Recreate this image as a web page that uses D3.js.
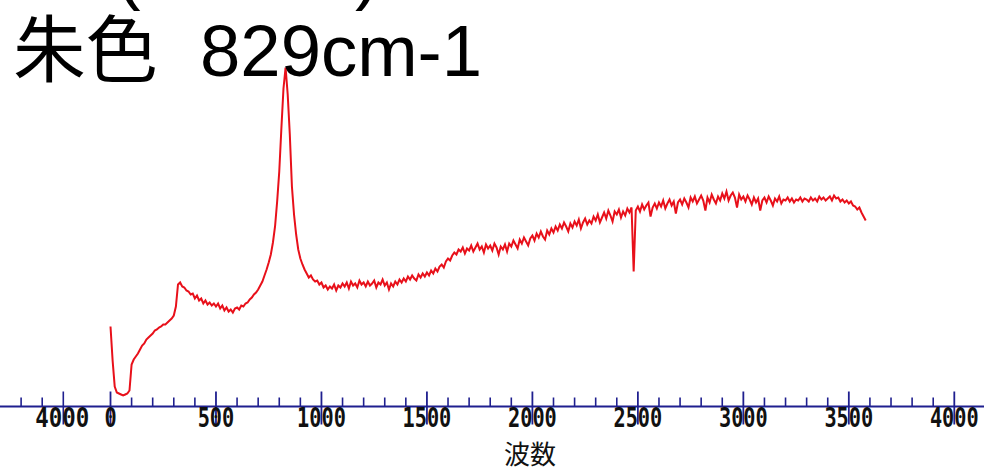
<!DOCTYPE html>
<html>
<head>
<meta charset="utf-8">
<script src="https://cdn.jsdelivr.net/npm/d3@7/dist/d3.min.js"></script>
<style>
  html, body { margin: 0; padding: 0; background: #ffffff; }
  svg { display: block; }
</style>
</head>
<body>
<div id="chart"></div>
<script>
// Raman spectrum of vermilion (朱色), main band at 829 cm-1
const titleName = "朱色";
const titleBand = "829cm-1";
const axisTitle = "波数";

// Tick labels along the wavenumber axis
const majorTicks = [0, 500, 1000, 1500, 2000, 2500, 3000, 3500, 4000];
const minorStep = 100;
// end of the neighbouring panel's axis, visible at the left edge
const prevPanelTicks = [3800, 3900, 4000];
const prevPanelLabels = [4000];

// Sampling grid of the spectrum (cm-1), every 10 cm-1
const shiftStart = 0, shiftStep = 10;

// Measured intensity (arbitrary units), one value per grid point
const intensity = [
  // 0 - 990
  80, 46, 20, 14, 13, 12, 11, 12, 13, 16,
  42, 47, 50, 53, 57, 61, 63, 67, 69, 71,
  73, 76, 77, 79, 80, 82, 82, 84, 86, 88,
  91, 100, 122, 124, 120, 119, 116, 115, 112, 113,
  108, 111, 106, 108, 103, 106, 102, 104, 101, 103,
  100, 103, 98, 101, 96, 99, 95, 97, 94, 98,
  99, 97, 101, 100, 103, 104, 107, 109, 112, 114,
  117, 121, 125, 131, 137, 144, 152, 164, 180, 205,
  235, 278, 318, 339, 312, 272, 220, 192, 172, 157,
  148, 142, 137, 133, 129, 131, 127, 125, 126, 122,
  // 1000 - 1990
  124, 119, 121, 117, 120, 118, 122, 116, 121, 119,
  123, 120, 124, 118, 125, 121, 123, 119, 126, 122,
  124, 120, 125, 121, 123, 126, 119, 124, 122, 127,
  121, 124, 117, 123, 120, 125, 122, 127, 124, 128,
  125, 130, 127, 131, 128, 126, 132, 129, 133, 130,
  134, 131, 136, 133, 138, 135, 140, 142, 139, 145,
  148, 146, 151, 154, 152, 157, 155, 159, 153, 158,
  156, 161, 155, 159, 163, 157, 160, 154, 162, 158,
  161, 156, 163, 159, 152, 160, 157, 162, 155, 163,
  160, 166, 162, 158, 167, 163, 169, 165, 161, 168,
  // 2000 - 2990
  171, 166, 173, 169, 175, 170, 167, 176, 172, 178,
  174, 180, 176, 182, 178, 184, 180, 175, 183, 179,
  185, 181, 187, 178, 184, 188, 182, 186, 183, 190,
  186, 192, 184, 189, 194, 188, 196, 191, 185, 195,
  192, 197, 189, 195, 191, 198, 194, 199, 135, 196,
  200, 195, 202, 197, 201, 204, 190, 199, 203, 198,
  204, 200, 206, 198, 203, 207, 201, 205, 193, 204,
  207, 202, 208, 204, 199, 209, 205, 210, 203, 207,
  211, 206, 196, 209, 204, 212, 207, 203, 210, 206,
  213, 208, 215, 206, 211, 214, 209, 199, 212, 207,
  // 3000 - 3580
  210, 205, 211, 207, 202, 209, 204, 208, 196, 206,
  209, 204, 210, 206, 201, 208, 205, 210, 203, 207,
  206, 209, 205, 208, 204, 207, 206, 209, 205, 208,
  207, 205, 209, 206, 208, 205, 210, 207, 209, 206,
  208, 210, 206, 211, 208, 209, 205, 207, 204, 206,
  203, 205, 201, 200, 197, 199, 194, 190, 186
];

const W = 984, H = 469;
const axisY = 406.5;

const svg = d3.select("#chart").append("svg")
  .attr("width", W).attr("height", H)
  .attr("viewBox", `0 0 ${W} ${H}`);

svg.append("rect").attr("width", W).attr("height", H).attr("fill", "#ffffff");

// Scales
const x = d3.scaleLinear().domain([0, 4000]).range([110.5, 954.3]);
const pxPerUnit = (x(4000) - x(0)) / 4000;
const xPrev = d3.scaleLinear().domain([0, 4000]).range([63.3 - 4000 * pxPerUnit, 63.3]);
const y = d3.scaleLinear().domain([0, 350]).range([axisY, axisY - 350]);

const spectrum = intensity.map((v, i) => ({ s: shiftStart + i * shiftStep, v }));

// Spectrum trace
svg.append("path")
  .datum(spectrum)
  .attr("fill", "none")
  .attr("stroke", "#e8101a")
  .attr("stroke-width", 2)
  .attr("stroke-linejoin", "miter")
  .attr("d", d3.line().x(d => x(d.s)).y(d => y(d.v)));

// Axis
const axisColor = "#1f1f8f";
const ax = svg.append("g");
ax.append("line")
  .attr("x1", 0).attr("x2", W)
  .attr("y1", axisY).attr("y2", axisY)
  .attr("stroke", axisColor).attr("stroke-width", 2);

const minorTicks = d3.range(0, 4001, minorStep).filter(t => !majorTicks.includes(t));
ax.selectAll("line.minor").data(minorTicks).join("line")
  .attr("class", "minor")
  .attr("x1", d => x(d)).attr("x2", d => x(d))
  .attr("y1", axisY - 9).attr("y2", axisY)
  .attr("stroke", axisColor).attr("stroke-width", 1.6);

ax.selectAll("line.major").data(majorTicks).join("line")
  .attr("class", "major")
  .attr("x1", d => x(d)).attr("x2", d => x(d))
  .attr("y1", axisY - 15).attr("y2", axisY + 18)
  .attr("stroke", axisColor).attr("stroke-width", 1.8);

ax.selectAll("line.prev").data(prevPanelTicks).join("line")
  .attr("class", "prev")
  .attr("x1", d => xPrev(d)).attr("x2", d => xPrev(d))
  .attr("y1", d => axisY - (prevPanelLabels.includes(d) ? 15 : 9))
  .attr("y2", d => axisY + (prevPanelLabels.includes(d) ? 18 : 0))
  .attr("stroke", axisColor).attr("stroke-width", 1.6);

const digitW = 12.2;
const tickLabel = sel => sel
  .attr("text-anchor", "middle")
  .attr("y", 427)
  .attr("font-family", "DejaVu Sans Mono, monospace")
  .attr("font-weight", "bold")
  .attr("font-size", 26)
  .attr("fill", "#111111")
  .attr("lengthAdjust", "spacingAndGlyphs")
  .attr("textLength", d => String(d).length * digitW)
  .text(d => d);

ax.selectAll("text.tl").data(majorTicks).join("text")
  .attr("class", "tl").attr("x", d => x(d)).call(tickLabel);
ax.selectAll("text.pl").data(prevPanelLabels).join("text")
  .attr("class", "pl").attr("x", d => xPrev(d) - 1).call(tickLabel)
  .attr("textLength", d => String(d).length * 13.5);

// Axis title
svg.append("text")
  .attr("x", 530).attr("y", 464)
  .attr("text-anchor", "middle")
  .attr("font-family", "Noto Sans CJK JP")
  .attr("font-size", 26)
  .attr("fill", "#111111")
  .text(axisTitle);

// Heading
const head = svg.append("text")
  .attr("y", 75.5)
  .attr("font-size", 72.5)
  .attr("fill", "#000000");
head.append("tspan")
  .attr("x", 13)
  .attr("font-family", "Noto Sans CJK JP")
  .text(titleName);
head.append("tspan")
  .attr("x", 200)
  .attr("font-family", "Liberation Sans, Arial, sans-serif")
  .text(titleBand);

// bracketed first line, cropped at the top edge
const upper = svg.append("g")
  .attr("font-family", "Liberation Sans, Arial, sans-serif")
  .attr("font-size", 74).attr("fill", "#000000");
upper.append("text").attr("x", 116).attr("y", -4).text("(");
upper.append("text").attr("x", 355).attr("y", -4).text(")");
</script>
</body>
</html>
